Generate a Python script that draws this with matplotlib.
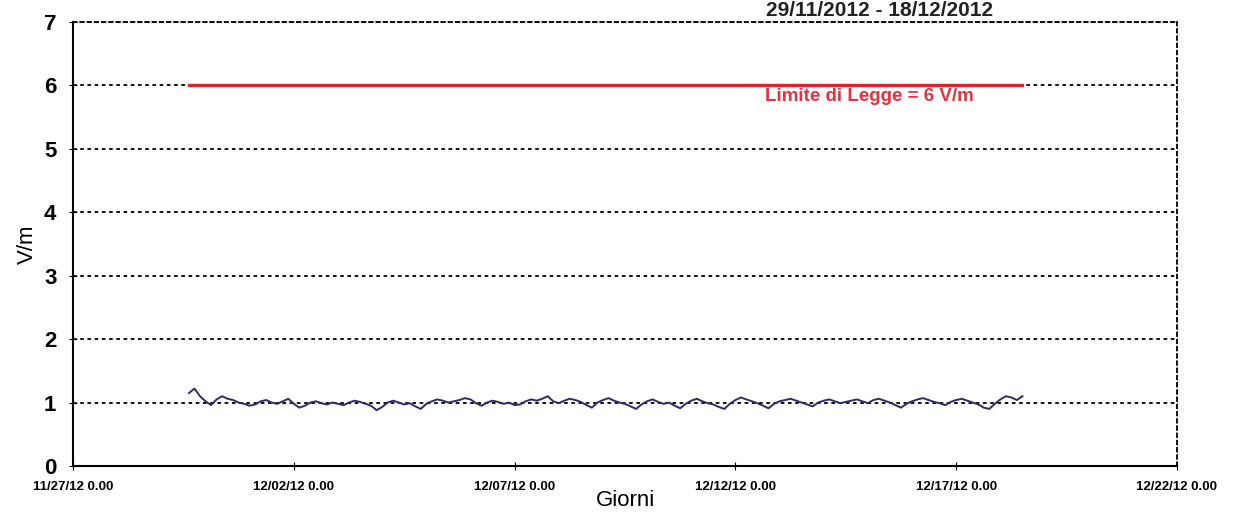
import numpy as np
import pandas as pd
import matplotlib
matplotlib.use('Agg')
import matplotlib.pyplot as plt
import matplotlib.dates as mdates

# Misure campo elettrico, un valore ogni 3 ore a partire dal 29/11/2012 15:00
start = '2012-11-29 15:00'
campo = [1.15, 1.22, 1.10, 1.02, 0.96, 1.05, 1.10, 1.06,
         1.04, 1.00, 0.98, 0.95, 0.97, 1.02, 1.04, 1.00,
         0.98, 1.02, 1.06, 0.98, 0.92, 0.95, 1.00, 1.02,
         0.99, 0.97, 1.00, 0.98, 0.96, 1.00, 1.03, 1.01,
         0.98, 0.95, 0.88, 0.93, 1.00, 1.03, 1.00, 0.97,
         0.99, 0.94, 0.90, 0.98, 1.02, 1.05, 1.03, 1.00,
         1.02, 1.04, 1.07, 1.05, 0.99, 0.95, 1.00, 1.03,
         1.01, 0.98, 1.00, 0.96, 0.97, 1.02, 1.05, 1.03,
         1.06, 1.10, 1.02, 0.99, 1.03, 1.06, 1.04, 1.01,
         0.96, 0.92, 1.00, 1.04, 1.07, 1.03, 1.00, 0.98,
         0.94, 0.90, 0.97, 1.02, 1.05, 1.01, 0.98, 1.00,
         0.95, 0.91, 0.98, 1.03, 1.06, 1.02, 0.99, 0.97,
         0.93, 0.90, 0.98, 1.04, 1.08, 1.05, 1.02, 0.99,
         0.95, 0.91, 0.98, 1.02, 1.04, 1.06, 1.03, 1.00,
         0.97, 0.94, 1.00, 1.03, 1.05, 1.02, 0.99, 1.01,
         1.03, 1.05, 1.02, 0.99, 1.04, 1.06, 1.03, 1.00,
         0.96, 0.92, 0.98, 1.02, 1.05, 1.07, 1.04, 1.01,
         0.99, 0.96, 1.01, 1.04, 1.06, 1.03, 1.00, 0.97,
         0.92, 0.90, 0.98, 1.05, 1.10, 1.08, 1.04, 1.10]
limite = 6
giorni_tick = ['2012-11-27', '2012-12-02', '2012-12-07', '2012-12-12', '2012-12-17', '2012-12-22']

tempi = pd.date_range(start, periods=len(campo), freq='3h')

plt.rcParams['font.family'] = ['Liberation Sans', 'DejaVu Sans']

fig = plt.figure(figsize=(12.34, 5.18), dpi=100)
ax = fig.add_axes([0.0592, 0.1004, 0.8946, 0.8571])

# limite di legge e misure
ax.plot([tempi[0], tempi[-1]], [limite, limite], color='#e5202e', lw=2.4, zorder=3)
ax.plot(tempi, campo, color='#2f2c6a', lw=1.4, zorder=3)
ax.text(pd.Timestamp('2012-12-12 16:00'), 5.82, 'Limite di Legge = 6 V/m', color='#e83040',
        fontsize=13.5, fontweight='bold', va='center', ha='left')

ax.set_xlim(pd.Timestamp(giorni_tick[0]), pd.Timestamp(giorni_tick[-1]))
ax.set_ylim(0, 7)
ax.set_yticks(range(0, 8))
ax.set_xticks(pd.to_datetime(giorni_tick))
ax.xaxis.set_major_formatter(mdates.DateFormatter('%m/%d/%y 0.00'))

# griglia tratteggiata
ax.yaxis.grid(True, color='black', linestyle=(0, (2, 2)), lw=1.3)
ax.spines['top'].set_linestyle((0, (2, 2)))
ax.spines['right'].set_linestyle((0, (2, 2)))
ax.spines['top'].set_linewidth(1.3)
ax.spines['right'].set_linewidth(1.3)
ax.spines['left'].set_linewidth(1.5)
ax.spines['bottom'].set_linewidth(1.5)

ax.tick_params(axis='y', direction='inout', length=6, labelsize=16, pad=9)
ax.tick_params(axis='x', direction='inout', length=6, labelsize=9.5, pad=8)
for lab in ax.get_yticklabels() + ax.get_xticklabels():
    lab.set_fontweight('bold')

ax.set_ylabel('V/m', fontsize=16, labelpad=4)
ax.set_xlabel('Giorni', fontsize=16, labelpad=-2)

fig.text(0.713, 0.998, '29/11/2012 - 18/12/2012', fontsize=15, fontweight='bold',
         ha='center', va='top', color='#222222')

fig.savefig('out.png', dpi=100)
